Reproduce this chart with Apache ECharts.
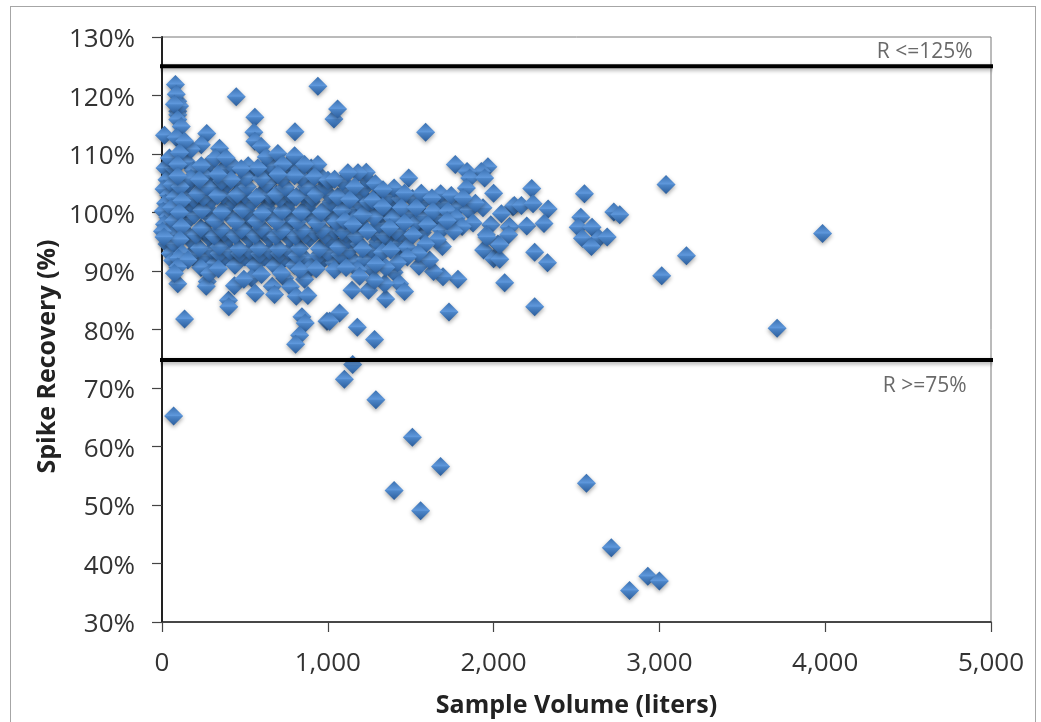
<!DOCTYPE html>
<html><head><meta charset="utf-8">
<script src="https://cdn.jsdelivr.net/npm/echarts@6/dist/echarts.min.js"></script>
<style>
html,body{margin:0;padding:0;background:#fff;overflow:hidden}
#frame{position:absolute;left:10px;top:6px;width:1026px;height:730px;border:1px solid #a6a6a6;box-sizing:border-box}
#c{position:absolute;left:0;top:0;width:1041px;height:722px}
</style></head><body>
<div id="frame"></div><div id="c"></div>
<script>
const xTickMax = 5000, yTickMin = 30, yTickMax = 130;
const upperLimit = 125, lowerLimit = 74.8;
const limitSpan = [-15, 5015];
const notes = [["R <=125%", 4600, 127.5], ["R >=75%", 4600, 70.3]];

const belowLimit = [[70,65.2],[1100,71.5],[1150,74],[1290,68],[1400,52.5],[1510,61.6],[1560,49],[1680,56.6],[2560,53.7],[2710,42.7],[2820,35.4],[2930,37.8],[3000,37]];
const farRight = [[2230,104.1],[2548,103.2],[3040,104.8],[2125,101.2],[2168,101.2],[2238,101.5],[2329,100.6],[2047,99.8],[2095,97.5],[2091,96.2],[2200,97.7],[2304,98.1],[2526,99.2],[2510,97.5],[2594,97.5],[2536,95.6],[2636,95.6],[2685,95.8],[2590,94.2],[2725,100.1],[2761,99.6],[2248,93.2],[2325,91.4],[2037,92],[2037,94.5],[2067,88],[2248,83.9],[3163,92.6],[3014,89.2],[3984,96.4],[3710,80.2]];
const midRight = [[1590,113.7],[1769,108.2],[1966,107.8],[1926,107],[1840,107],[1856,105.9],[1946,105.9],[1836,104.2],[2000,103.3],[2117,101],[1983,97.9],[1936,100.8],[1890,101.6],[1488,105.9],[1564,103.3],[1463,103.3],[1681,103.2],[1745,102.9],[1816,102.5],[1628,102.5],[1232,106.9],[1182,106.8],[1121,106.8],[1287,104.9],[1162,104.4],[1333,103.9],[1132,102.2],[1272,102.1],[1331,101],[1444,100.8],[1534,100.8],[1634,100.2],[1725,100.2],[1775,99.1],[1876,98.2],[1602,97.9],[1685,97],[1463,98.2],[1152,97.9],[1240,96.8],[1373,97.4],[1514,96.2],[1956,96.2],[1731,83],[1785,88.6],[1695,89],[1638,89.9],[1550,90.8],[1614,91.9],[1691,94.2],[1433,87.8],[1463,86.5],[1349,85.2],[1343,87.8],[1246,86.7],[1146,86.7],[1282,88.4],[1192,89.1],[1071,82.8],[1011,81.4],[1178,80.4],[1282,78.3],[1940,93.6],[2000,92.1],[2026,94.6],[1960,95.8],[2097,97.6],[1810,97.6],[1760,96.8],[1720,98.6],[1660,95.4],[1590,94.6],[1545,93],[1480,92.4],[1420,91.4],[1380,93.6],[1350,90.6],[1290,91.2]];
const topEdge = [[81,121.9],[95,119],[95,117.3],[95,116.7],[86,120.2],[106,118.2],[75,118.5],[95,115.9],[116,114.7],[448,119.8],[560,116.3],[940,121.6],[1037,116],[1059,117.7],[554,113.7],[560,112.2],[802,113.8],[15,113.2],[86,112.8],[270,113.5],[237,111.6],[176,110.8],[347,111],[136,112.2],[599,111.3],[629,109.5],[699,110.1],[800,109.7],[578,107.6],[940,108.2],[45,109.3],[106,110.2],[321,109.3],[387,109.3],[478,107.5],[237,108],[95,108.2],[729,108.2],[860,108.2],[920,106.1],[1001,105.5],[1041,105.7],[800,106.3],[699,106.5],[418,105.6],[337,106.5],[226,105.6],[95,106.2]];
const bottomEdge = [[95,87.8],[136,81.8],[273,88.2],[267,87.4],[401,85],[403,83.9],[562,86.2],[665,87.4],[679,86],[775,87.3],[810,85.7],[880,85.8],[844,82.2],[864,81.1],[830,79],[806,77.5],[995,81.4],[437,87.5],[494,88.6],[287,89.6],[156,91.9],[95,90.7],[75,89.6],[3,96.8],[12,95.8],[340,90.4],[600,89.4],[720,89.6],[830,90.2],[930,90.4],[1040,90.2],[1110,90.6]];
const axisColumn = [[18,107.6],[30,105.6],[12,104],[40,103],[22,101.6],[8,100.2],[35,99.2],[15,98],[45,97],[30,94.6],[50,93],[70,107.6],[62,104.8],[78,102.6],[58,100.8],[72,98.6],[60,96],[75,94.6],[65,91.8],[110,104.4],[120,102],[105,100],[118,97.6],[108,95.4],[122,93],[100,92.2]];
const rowA = [[290,106.2],[470,105],[540,106.9],[650,105.3],[760,106.9],[880,105.1],[160,104.9],[215,103.2],[275,104.4],[335,102.9],[395,104.9],[455,103.1],[515,104.4],[570,102.6],[630,104.9],[690,103.1],[745,104.3],[810,102.7],[870,104.4],[930,103.1],[985,104.5],[1060,102.7],[1220,104.2],[1400,104.2]];
const rowB = [[175,101.6],[240,100.4],[300,102.2],[360,100.1],[425,102.1],[485,100.5],[545,101.8],[605,99.9],[660,102.3],[725,100.2],[780,102.1],[840,100],[900,101.9],[960,100],[1020,101.8],[1085,100.4],[1200,101.4],[1390,102],[1510,102.4],[1280,99.2],[1105,98.6],[1210,99.6],[1390,99],[1580,99.4],[1680,99.2]];
const rowC = [[165,98.9],[235,97.3],[295,99.1],[355,97.2],[415,99.2],[480,97.1],[540,99],[600,97.3],[660,99.2],[720,96.9],[785,99],[845,97],[905,99],[965,97.1],[1020,99.1],[1085,96.9],[1190,98.4],[1310,98],[1410,96.8],[1555,98.4]];
const rowD = [[175,95.2],[225,93.9],[280,95.8],[345,94.2],[405,95.7],[465,93.8],[525,95.6],[585,93.9],[645,95.7],[705,93.8],[770,95.6],[830,93.9],[890,95.6],[950,93.8],[1005,95.5],[1065,94.1],[1125,95.4],[1190,94.6],[1300,95],[1360,95.6],[1440,94.8],[1490,95.6]];
const rowE = [[205,91.9],[260,92.6],[320,91.3],[380,92.4],[440,91],[500,92.4],[560,91],[620,92.4],[680,90.9],[740,92.2],[800,91],[860,92.2],[920,90.9],[980,92.2],[1040,91.4],[1100,92.2],[1160,91.6],[1225,92],[1270,93.6],[1440,93.4]];
const fillTop = [[150,108.6],[190,107.2],[280,108.2],[370,107.4],[430,107.9],[520,108],[610,107.3],[660,108],[770,108.4],[830,107.4],[900,107.6],[250,106.4],[175,105.8],[360,105.4],[505,106],[600,105.8],[725,105.8],[840,106],[965,106],[1090,105.3],[1240,105.6]];
const fillUpper = [[140,103],[190,102.4],[250,102.6],[310,104],[370,103],[440,102.8],[500,103],[600,103.2],[650,103],[710,102.4],[770,103.2],[850,103],[905,102.6],[1010,103],[1110,103.8],[1190,103.2],[1300,103],[1370,102.8],[1440,102.4],[1570,101.8],[1680,101.6],[1790,101],[1850,100.4],[1245,101.8]];
const fillMiddle = [[140,100.6],[195,99.6],[270,100.8],[320,98.6],[385,100.9],[445,98.4],[510,100.2],[570,98.5],[630,100.8],[690,98.4],[750,100.7],[815,98.4],[875,100.7],[935,98.2],[990,100.7],[1050,98.4],[1130,100.6],[1170,99],[1250,100.4],[1320,99.8],[1360,100.6],[1430,99.4],[1490,99.8],[1530,98.2],[1640,98.8]];
const fillLower = [[150,96.4],[205,96.2],[260,96.9],[315,96],[375,96.6],[440,96.1],[500,97],[560,96.1],[620,96.8],[685,96],[745,97.2],[805,96],[865,96.2],[925,96.6],[985,96.2],[1045,96.9],[1110,96.4],[1170,96],[1280,96.6],[1340,96.2],[1430,96.4],[1570,96.6],[1210,93.8],[1330,93.2],[1480,94]];
const fillBottom = [[175,92.8],[235,90.6],[300,93.6],[345,93],[410,93.4],[470,93],[530,93.5],[590,92.9],[650,93.5],[710,93],[770,93.5],[815,92.6],[890,90.4],[945,92.7],[1000,93.2],[1075,92.8],[1130,93.6],[1265,90.4],[1400,89.8],[1180,90.2],[540,88.8],[740,88.8],[860,88.6]];

const allPoints = [].concat(rowE,fillBottom,rowD,fillLower,rowC,fillMiddle,rowB,fillUpper,rowA,fillTop,axisColumn,bottomEdge,topEdge,midRight,farRight,belowLimit);

const bevel = new echarts.graphic.LinearGradient(0,0,0,1,[
  {offset:0,color:'#3a70b0'},{offset:.47,color:'#5f98dc'},
  {offset:.53,color:'#4c85c8'},{offset:1,color:'#2b5d9b'}]);
const limitLine = v => ({type:'line',data:limitSpan.map(x=>[x,v]),symbol:'none',clip:false,silent:true,z:5,
  lineStyle:{color:'#000',width:4,shadowColor:'rgba(0,0,0,.35)',shadowBlur:4,shadowOffsetY:2}});

const chart = echarts.init(document.getElementById('c'),null,{renderer:'canvas'});
chart.setOption({
  animation:false,backgroundColor:'transparent',
  grid:{left:162,top:37,width:829,height:585,outerBoundsMode:'none',show:true,borderColor:'#777',borderWidth:1,backgroundColor:'transparent'},
  xAxis:{type:'value',min:0,max:xTickMax,interval:1000,
    name:'Sample Volume (liters)',nameLocation:'middle',nameGap:71,nameMoveOverlap:false,
    nameTextStyle:{fontFamily:'Open Sans',fontWeight:'bold',fontSize:25,color:'#222'},
    axisLine:{show:true,onZero:false,lineStyle:{color:'#222',width:1.5}},
    axisTick:{show:true,length:10,lineStyle:{color:'#444',width:1.2}},
    splitLine:{show:false},
    axisLabel:{margin:29,fontFamily:'Open Sans',fontSize:26,color:'#333',hideOverlap:false,
      formatter:v=>v.toLocaleString('en-US')}},
  yAxis:{type:'value',min:yTickMin,max:yTickMax,interval:10,
    name:'Spike Recovery (%)',nameLocation:'middle',nameGap:102,nameRotate:90,nameMoveOverlap:false,
    nameTextStyle:{fontFamily:'Open Sans',fontWeight:'bold',fontSize:25,color:'#222',padding:[0,54,0,0]},
    axisLine:{show:true,onZero:false,lineStyle:{color:'#222',width:2}},
    axisTick:{show:true,length:10,lineStyle:{color:'#444',width:1.2}},
    splitLine:{show:false},
    axisLabel:{margin:27,fontFamily:'Open Sans',fontSize:26,color:'#333',verticalAlign:'top',lineHeight:6,formatter:'{value}%'}},
  series:[
    {type:'scatter',data:allPoints,symbol:'diamond',symbolSize:19,clip:false,z:3,silent:true,
      itemStyle:{color:bevel,opacity:1,shadowColor:'rgba(0,0,0,.35)',shadowBlur:4,shadowOffsetY:2}},
    limitLine(upperLimit),limitLine(lowerLimit),
    {type:'scatter',data:notes.map(n=>({value:[n[1],n[2]],name:n[0]})),symbolSize:0,silent:true,z:6,
      label:{show:true,position:'inside',formatter:'{b}',fontFamily:'Open Sans',fontSize:21,color:'#444'}}
  ]
});
</script></body></html>
